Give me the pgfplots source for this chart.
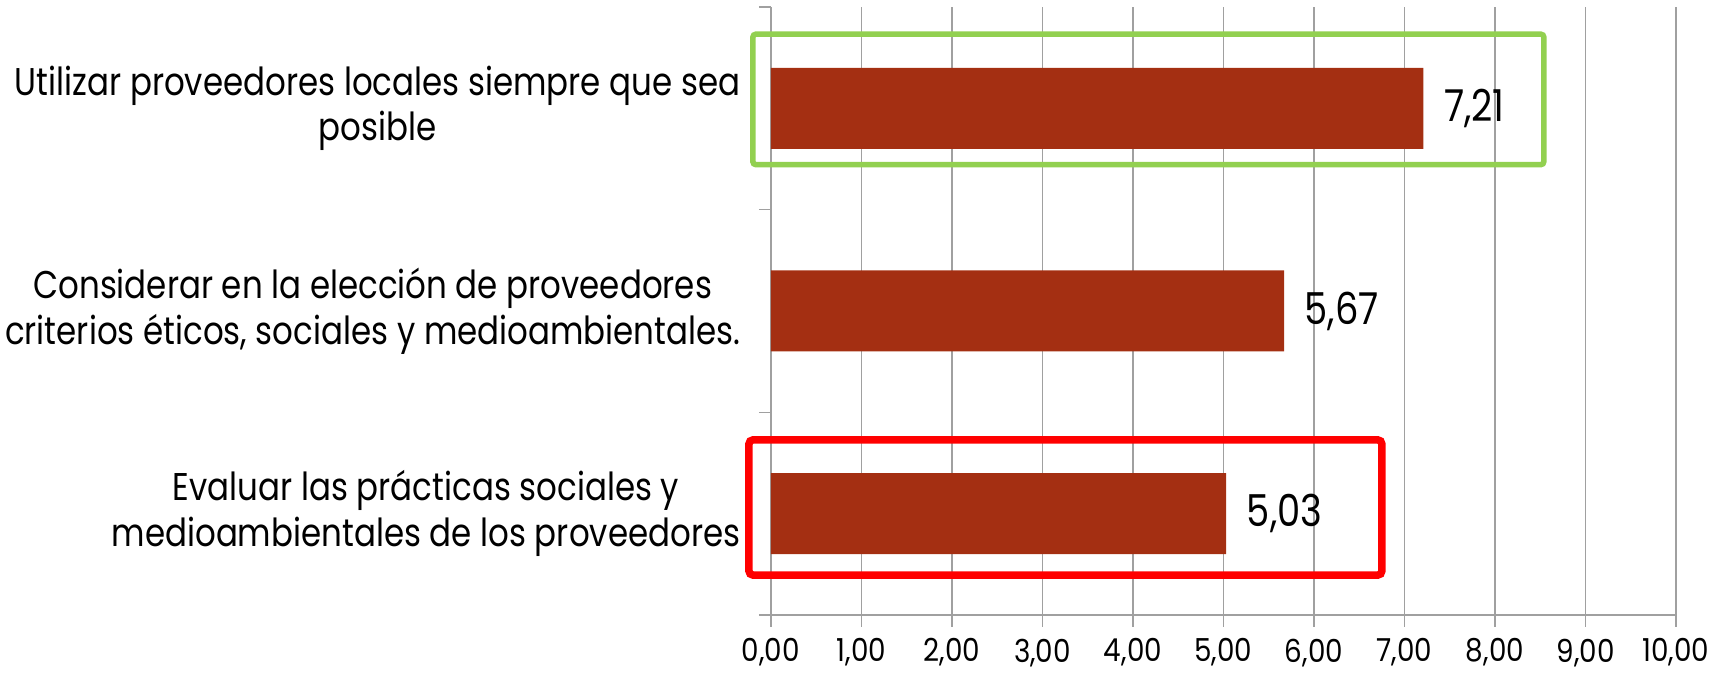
\documentclass[border=0pt]{standalone}
\usepackage{pgfplots}
\pgfplotsset{compat=1.18}
\usepackage{fontspec}
\setmainfont{Poppins}[FakeStretch=0.84]
\newfontfamily\ticknumfont{Poppins}[FakeStretch=0.88]
\definecolor{barred}{RGB}{164,47,18}
\definecolor{gridgray}{RGB}{160,160,160}
\definecolor{boxgreen}{RGB}{146,208,80}
\begin{document}
\begin{tikzpicture}
\begin{axis}[
  scale only axis, width=90.5mm, height=60.8mm,
  xmin=0, xmax=10, ymin=-0.5, ymax=2.5,
  clip=false,
  axis x line*=bottom, axis y line*=left,
  axis line style={draw=gridgray, line width=0.6pt, -},
  xmajorgrids, major grid style={draw=gridgray, line width=0.4pt},
  xtick={0,...,10},
  tick align=outside, major tick length=1.2mm,
  x tick style={draw=gridgray, line width=0.4pt},
  /pgf/number format/assume math mode=true,
  xticklabel={\pgfmathprintnumber[fixed,fixed zerofill,precision=2,use comma]{\tick}},
  x tick label style={font=\ticknumfont\fontsize{9}{11}\selectfont, inner ysep=0pt, yshift=-1.1mm},
  ytick={0,1,2},
  yticklabels={{Evaluar las prácticas sociales y\\medioambientales de los proveedores},
               {Considerar en la elección de proveedores\\criterios éticos, sociales y medioambientales.},
               {Utilizar proveedores locales siempre que sea\\posible}},
  y tick label style={align=center, font=\fontsize{11}{13}\selectfont, inner sep=0pt, xshift=-1.8mm},
  y tick style={draw=none},
  extra y ticks={-0.5,0.5,1.5,2.5},
  extra y tick labels={},
  extra y tick style={y tick style={draw=gridgray, line width=0.4pt}},
  xbar, bar width=8.1mm,
  point meta=x,
  nodes near coords={\pgfmathprintnumber[fixed,fixed zerofill,precision=2,use comma]{\pgfplotspointmeta}},
  nodes near coords style={font=\fontsize{12.5}{14}\selectfont, anchor=west, inner xsep=2mm, black},
]
\addplot[fill=barred, draw=none] coordinates {(5.03,0) (5.67,1) (7.21,2)};
% highlight frames
\draw[boxgreen, line width=0.55mm, rounded corners=0.3mm]
  (axis cs:-0.20,1.722) rectangle (axis cs:8.54,2.366);
\draw[red, line width=0.75mm, rounded corners=0.4mm]
  (axis cs:-0.243,-0.303) rectangle (axis cs:6.75,0.364);
% page frame
\path (axis cs:-8.519,-0.7911) rectangle (axis cs:10.608,2.5345);
\end{axis}
\end{tikzpicture}
\end{document}
